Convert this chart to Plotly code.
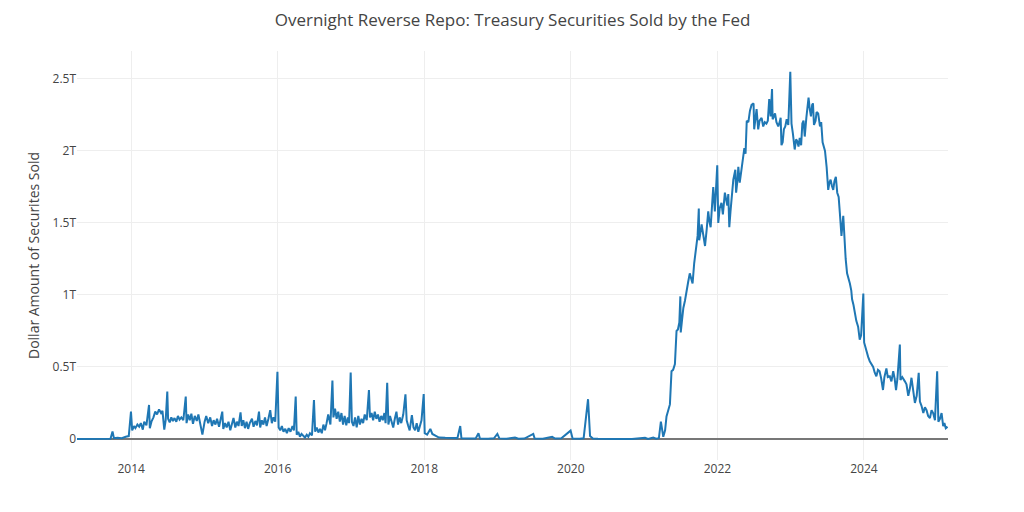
import plotly.graph_objects as go

# ---- Data (values in billions of dollars) ----
dates_2013 = ["2013-04-06", "2013-06-01", "2013-08-15", "2013-09-20", "2013-09-30", "2013-10-07",
              "2013-10-25", "2013-11-15", "2013-12-05", "2013-12-20", "2013-12-31"]
vals_2013 = [0, 0, 0, 2, 52, 5, 8, 5, 15, 20, 190]

dates_2014 = ["2014-01-06", "2014-01-15", "2014-01-22", "2014-02-01", "2014-02-10", "2014-02-18",
              "2014-02-28", "2014-03-07", "2014-03-18", "2014-03-31", "2014-04-04", "2014-04-12",
              "2014-04-22", "2014-05-01", "2014-05-10", "2014-05-20", "2014-05-30", "2014-06-06",
              "2014-06-15", "2014-06-22", "2014-06-30", "2014-07-04", "2014-07-12", "2014-07-20",
              "2014-07-28", "2014-08-05", "2014-08-14", "2014-08-22", "2014-08-30", "2014-09-08",
              "2014-09-18", "2014-09-30", "2014-10-04", "2014-10-12", "2014-10-20", "2014-10-28",
              "2014-11-05", "2014-11-14", "2014-11-24", "2014-12-02", "2014-12-10", "2014-12-22"]
vals_2014 = [60, 90, 75, 100, 85, 110,
             65, 120, 95, 236, 75, 120,
             150, 190, 170, 205, 180, 195,
             65, 130, 330, 140, 115, 150,
             125, 145, 120, 160, 135, 150,
             130, 295, 110, 170, 130, 175,
             105, 160, 125, 170, 110, 30]

dates_2015 = ["2015-01-02", "2015-01-10", "2015-01-20", "2015-01-30", "2015-02-08", "2015-02-16",
              "2015-02-25", "2015-03-05", "2015-03-15", "2015-03-31", "2015-04-05", "2015-04-14",
              "2015-04-22", "2015-05-01", "2015-05-10", "2015-05-18", "2015-05-26", "2015-06-04",
              "2015-06-12", "2015-06-20", "2015-06-30", "2015-07-06", "2015-07-14", "2015-07-22",
              "2015-07-30", "2015-08-07", "2015-08-15", "2015-08-26", "2015-09-03", "2015-09-12",
              "2015-09-20", "2015-09-30", "2015-10-06", "2015-10-14", "2015-10-22", "2015-10-30",
              "2015-11-07", "2015-11-16", "2015-11-25", "2015-12-03", "2015-12-11", "2015-12-20",
              "2015-12-31"]
vals_2015 = [120, 160, 110, 150, 90, 130,
             100, 140, 85, 190, 70, 110,
             80, 120, 60, 100, 146, 80,
             120, 90, 185, 90, 130, 75,
             120, 70, 110, 140, 85, 125,
             95, 190, 80, 130, 100, 150,
             90, 140, 200, 110, 150, 120,
             467]

dates_2016 = ["2016-01-06", "2016-01-14", "2016-01-22", "2016-01-30", "2016-02-08", "2016-02-16",
              "2016-02-25", "2016-03-05", "2016-03-15", "2016-03-22", "2016-03-31", "2016-04-05",
              "2016-04-13", "2016-04-21", "2016-04-29", "2016-05-07", "2016-05-16", "2016-05-25",
              "2016-06-02", "2016-06-10", "2016-06-20", "2016-06-30", "2016-07-06", "2016-07-14",
              "2016-07-22", "2016-07-30", "2016-08-08", "2016-08-16", "2016-08-24", "2016-09-01",
              "2016-09-09", "2016-09-20", "2016-09-30", "2016-10-05", "2016-10-13", "2016-10-21",
              "2016-10-29", "2016-11-06", "2016-11-14", "2016-11-22", "2016-11-30", "2016-12-08",
              "2016-12-16", "2016-12-22", "2016-12-30"]
vals_2016 = [80, 60, 90, 50, 70, 40,
             75, 50, 90, 60, 294, 30,
             50, 15, 35, 20, 10, 30,
             15, 40, 25, 270, 50, 80,
             45, 70, 40, 100, 60, 110,
             170, 100, 405, 150, 210, 140,
             190, 120, 180, 100, 160, 95,
             150, 110, 461]

dates_2017 = ["2017-01-05", "2017-01-13", "2017-01-21", "2017-01-29", "2017-02-06", "2017-02-14",
              "2017-02-22", "2017-03-02", "2017-03-10", "2017-03-20", "2017-03-31", "2017-04-05",
              "2017-04-13", "2017-04-21", "2017-04-29", "2017-05-07", "2017-05-15", "2017-05-23",
              "2017-05-31", "2017-06-08", "2017-06-16", "2017-06-22", "2017-06-30", "2017-07-06",
              "2017-07-14", "2017-07-22", "2017-07-30", "2017-08-07", "2017-08-15", "2017-08-23",
              "2017-08-31", "2017-09-08", "2017-09-18", "2017-09-29", "2017-10-05", "2017-10-13",
              "2017-10-20", "2017-10-31", "2017-11-08", "2017-11-16", "2017-11-24", "2017-12-02",
              "2017-12-10", "2017-12-18", "2017-12-29"]
vals_2017 = [120, 90, 150, 80, 160, 100,
             140, 110, 170, 130, 340, 150,
             180, 130, 190, 140, 170, 120,
             160, 130, 180, 110, 390, 100,
             160, 120, 80, 140, 190, 100,
             150, 110, 170, 310, 130, 90,
             60, 165, 80, 60, 110, 50,
             90, 130, 312]

dates_2018_2020 = ["2018-01-03", "2018-01-15", "2018-01-31", "2018-02-10", "2018-02-25", "2018-03-15",
                   "2018-04-15", "2018-05-15", "2018-06-15", "2018-06-29", "2018-07-05", "2018-08-15",
                   "2018-09-14", "2018-09-28", "2018-10-05", "2018-11-15", "2018-12-14", "2018-12-31",
                   "2019-01-10", "2019-02-15", "2019-03-29", "2019-04-15", "2019-05-15", "2019-06-28",
                   "2019-07-05", "2019-08-15", "2019-09-30", "2019-10-15", "2019-11-15", "2019-12-31",
                   "2020-01-10", "2020-02-15", "2020-03-05", "2020-03-27", "2020-04-06", "2020-04-20",
                   "2020-05-15", "2020-08-01", "2020-11-01", "2021-01-05", "2021-01-20", "2021-02-15",
                   "2021-03-01"]
vals_2018_2020 = [40, 30, 70, 35, 25, 10,
                  8, 5, 6, 90, 5, 3,
                  4, 40, 3, 2, 5, 35,
                  4, 2, 10, 2, 3, 35,
                  3, 2, 15, 3, 5, 58,
                  3, 2, 5, 276, 20, 3,
                  1, 0, 0, 8, 0, 10,
                  2]

dates_2021 = ["2021-03-15", "2021-03-25", "2021-04-06", "2021-04-15", "2021-04-22", "2021-05-01",
              "2021-05-09", "2021-05-17", "2021-05-25", "2021-06-03", "2021-06-11", "2021-06-18",
              "2021-06-25", "2021-06-30", "2021-07-02", "2021-07-08", "2021-07-15", "2021-07-23",
              "2021-07-31", "2021-08-08", "2021-08-16", "2021-08-23", "2021-08-30", "2021-09-07",
              "2021-09-13", "2021-09-19", "2021-09-24", "2021-09-30", "2021-10-02", "2021-10-07",
              "2021-10-14", "2021-10-22", "2021-10-31", "2021-11-08", "2021-11-16", "2021-11-22",
              "2021-11-28", "2021-12-05", "2021-12-11", "2021-12-19", "2021-12-24", "2021-12-31"]
vals_2021 = [5, 120, 15, 60, 157, 200,
             240, 470, 480, 520, 750, 760,
             810, 990, 740, 820, 910, 960,
             1040, 1090, 1150, 1120, 1080, 1220,
             1300, 1360, 1410, 1600, 1380, 1420,
             1490, 1420, 1340, 1450, 1580, 1510,
             1470, 1620, 1750, 1580, 1690, 1900]

dates_2022 = ["2022-01-05", "2022-01-12", "2022-01-21", "2022-01-28", "2022-02-07", "2022-02-14",
              "2022-02-19", "2022-02-24", "2022-03-01", "2022-03-07", "2022-03-13", "2022-03-21",
              "2022-03-31", "2022-04-04", "2022-04-11", "2022-04-15", "2022-04-22", "2022-05-02",
              "2022-05-09", "2022-05-15", "2022-05-21", "2022-05-27", "2022-06-04", "2022-06-12",
              "2022-06-20", "2022-06-30", "2022-07-03", "2022-07-10", "2022-07-15", "2022-07-23",
              "2022-07-30", "2022-08-09", "2022-08-17", "2022-08-25", "2022-09-02", "2022-09-09",
              "2022-09-16", "2022-09-23", "2022-09-30", "2022-10-03", "2022-10-10", "2022-10-15",
              "2022-10-22", "2022-10-31", "2022-11-07", "2022-11-12", "2022-11-16", "2022-11-22",
              "2022-11-28", "2022-12-05", "2022-12-12", "2022-12-20", "2022-12-30"]
vals_2022 = [1500, 1600, 1640, 1560, 1710, 1650,
             1620, 1700, 1470, 1580, 1660, 1800,
             1870, 1710, 1800, 1890, 1780, 1890,
             1940, 2020, 1980, 2210, 2200, 2280,
             2320, 2330, 2150, 2250, 2290, 2150,
             2210, 2230, 2170, 2200, 2190, 2210,
             2360, 2240, 2430, 2220, 2240, 2260,
             2200, 2170, 2200, 2230, 2040, 2060,
             2150, 2170, 2220, 2180, 2550]

dates_2023 = ["2023-01-05", "2023-01-12", "2023-01-21", "2023-01-28", "2023-02-02", "2023-02-09",
              "2023-02-15", "2023-02-22", "2023-02-28", "2023-03-06", "2023-03-12", "2023-03-20",
              "2023-03-31", "2023-04-06", "2023-04-12", "2023-04-18", "2023-04-22", "2023-04-27",
              "2023-05-05", "2023-05-10", "2023-05-18", "2023-05-27", "2023-06-02", "2023-06-09",
              "2023-06-14", "2023-06-21", "2023-06-29", "2023-07-07", "2023-07-13", "2023-07-19",
              "2023-07-25", "2023-08-01", "2023-08-07", "2023-08-14", "2023-08-21", "2023-08-28",
              "2023-09-03", "2023-09-11", "2023-09-20", "2023-09-28", "2023-10-02", "2023-10-09",
              "2023-10-16", "2023-10-23", "2023-10-30", "2023-11-03", "2023-11-10", "2023-11-16",
              "2023-11-24", "2023-12-03", "2023-12-11", "2023-12-18", "2023-12-29"]
vals_2023 = [2190, 2120, 2010, 2080, 2070, 2030,
             2090, 2040, 2190, 2210, 2100, 2230,
             2370, 2290, 2240, 2320, 2330, 2180,
             2210, 2270, 2260, 2170, 2200, 2060,
             2040, 2000, 1890, 1730, 1780, 1800,
             1760, 1730, 1790, 1820, 1710, 1680,
             1570, 1410, 1550, 1290, 1250, 1150,
             1120, 1080, 1030, 970, 930, 875,
             820, 780, 690, 720, 1010]

dates_2024_2025 = ["2024-01-02", "2024-01-08", "2024-01-14", "2024-01-22", "2024-01-30", "2024-02-07",
                   "2024-02-16", "2024-02-24", "2024-03-03", "2024-03-11", "2024-03-19", "2024-03-27",
                   "2024-04-05", "2024-04-12", "2024-04-22", "2024-04-29", "2024-05-09", "2024-05-17",
                   "2024-05-26", "2024-06-02", "2024-06-09", "2024-06-16", "2024-06-28", "2024-07-01",
                   "2024-07-10", "2024-07-23", "2024-07-31", "2024-08-09", "2024-08-17", "2024-08-25",
                   "2024-09-03", "2024-09-11", "2024-09-20", "2024-09-30", "2024-10-06", "2024-10-14",
                   "2024-10-23", "2024-10-31", "2024-11-08", "2024-11-16", "2024-11-25", "2024-12-03",
                   "2024-12-11", "2024-12-20", "2024-12-31", "2025-01-06", "2025-01-14", "2025-01-22",
                   "2025-01-30", "2025-02-05", "2025-02-12", "2025-02-21"]
vals_2024_2025 = [670, 640, 600, 570, 540, 520,
                  500, 460, 435, 480, 470, 420,
                  340, 430, 490, 430, 435, 400,
                  470, 420, 340, 420, 655, 410,
                  430, 400, 380, 300, 350, 425,
                  340, 250, 300, 460, 260, 230,
                  180, 220, 200, 160, 145, 200,
                  180, 130, 470, 120, 140, 180,
                  90, 110, 75, 85]

date_groups = [dates_2013, dates_2014, dates_2015, dates_2016, dates_2017, dates_2018_2020,
               dates_2021, dates_2022, dates_2023, dates_2024_2025]
value_groups = [vals_2013, vals_2014, vals_2015, vals_2016, vals_2017, vals_2018_2020,
                vals_2021, vals_2022, vals_2023, vals_2024_2025]

dates = [d for g in date_groups for d in g]
values_bn = [v for g in value_groups for v in g]
assert len(dates) == len(values_bn)

y_tick_vals = [0, 500, 1000, 1500, 2000, 2500]
y_tick_text = ["0", "0.5T", "1T", "1.5T", "2T", "2.5T"]

fig = go.Figure(
    go.Scatter(
        x=dates,
        y=values_bn,
        mode="lines",
        line=dict(color="#1f77b4", width=2),
        name="ON RRP",
    )
)

W, H = 1016, 504  # page body has an 8px margin
fig.update_layout(
    template="none",
    width=W,
    height=H,
    margin=dict(l=69, r=76, t=43, b=52),
    paper_bgcolor="white",
    plot_bgcolor="white",
    font=dict(family='"Open Sans", verdana, arial, sans-serif', color="#444", size=12),
    title=dict(
        text="Overnight Reverse Repo: Treasury Securities Sold by the Fed",
        x=0.5, xanchor="center", xref="paper",
        y=1 - 12 / H, yanchor="middle", yref="container",
        font=dict(size=17, color="#444"),
    ),
    showlegend=False,
    xaxis=dict(
        type="date",
        range=["2013-04-06", "2025-02-23"],
        showgrid=True,
        gridcolor="#eee",
        dtick="M24",
        tick0="2014-01-01",
        tickformat="%Y",
        zeroline=False,
        showline=False,
        ticks="",
    ),
    yaxis=dict(
        range=[-146, 2694],
        tickvals=y_tick_vals,
        ticktext=y_tick_text,
        showgrid=True,
        gridcolor="#eee",
        zeroline=True,
        zerolinecolor="#777",
        zerolinewidth=1.5,
        showline=False,
        ticks="",
        title=dict(text="Dollar Amount of Securites Sold", font=dict(size=14, color="#444")),
    ),
)

fig.write_html("out.html")
